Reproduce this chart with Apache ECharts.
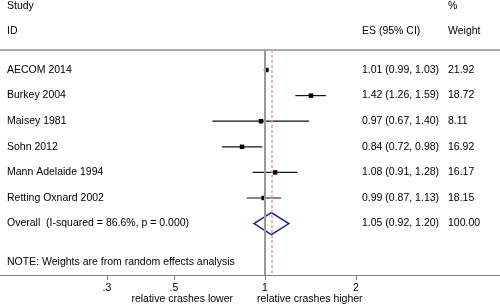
<!DOCTYPE html>
<html>
<head>
<meta charset="utf-8">
<script src="https://cdn.jsdelivr.net/npm/echarts@6/dist/echarts.min.js"></script>
<style>
  html, body { margin: 0; padding: 0; background: #fff; }
  #forest { width: 500px; height: 306px; }
</style>
</head>
<body>
<div id="forest"></div>
<script>
var studies = ['AECOM 2014', 'Burkey 2004', 'Maisey 1981', 'Sohn 2012', 'Mann Adelaide 1994', 'Retting Oxnard 2002'];
var es = [1.01, 1.42, 0.97, 0.84, 1.08, 0.99];
var lower = [0.99, 1.26, 0.67, 0.72, 0.91, 0.87];
var upper = [1.03, 1.59, 1.40, 0.98, 1.28, 1.13];
var weights = ['21.92', '18.72', '8.11', '16.92', '16.17', '18.15'];
var overall = [1.05, 0.92, 1.20];
var overallLabel = 'Overall  (I-squared = 86.6%, p = 0.000)';
var overallWeight = '100.00';
var tickValues = [0.3, 0.5, 1, 2];
var tickLabels = ['.3', '.5', '1', '2'];

var FONT = 'Liberation Sans, Arial, sans-serif';
var FS = 10.5;
var chart = echarts.init(document.getElementById('forest'));

function ciText(e, l, u) {
  return e.toFixed(2) + ' (' + l.toFixed(2) + ', ' + u.toFixed(2) + ')';
}

var studyData = [];
for (var i = 0; i < studies.length; i++) {
  studyData.push([i, es[i], lower[i], upper[i]]);
}
var overallRow = studies.length;

var option = {
  animation: false,
  grid: { left: 0, right: 0, top: 50, bottom: 31 },
  xAxis: [{
    type: 'log',
    logBase: 10,
    min: 0.1328,
    max: 5.994,
    axisLine: { show: true, onZero: false, lineStyle: { color: '#808080', width: 1 } },
    axisTick: { show: true, length: 5, lineStyle: { color: '#808080' }, customValues: tickValues },
    axisLabel: {
      show: true, color: '#000', fontFamily: FONT, fontSize: FS, margin: 8,
      customValues: tickValues,
      formatter: function (v) {
        for (var k = 0; k < tickValues.length; k++) {
          if (Math.abs(tickValues[k] - v) < 1e-6) return tickLabels[k];
        }
        return '';
      }
    },
    splitLine: { show: false }
  }, {
    type: 'log',
    logBase: 10,
    position: 'top',
    min: 0.1328,
    max: 5.994,
    axisLine: { show: true, onZero: false, lineStyle: { color: '#909090', width: 1.5 } },
    axisTick: { show: false },
    axisLabel: { show: false },
    splitLine: { show: false }
  }],
  yAxis: {
    type: 'value',
    inverse: true,
    min: -0.78125,
    max: 8.0078,
    show: false
  },
  series: [{
    type: 'custom',
    data: studyData,
    renderItem: function (params, api) {
      var row = api.value(0);
      var p = api.coord([api.value(1), row]);
      var a = api.coord([api.value(2), row]);
      var b = api.coord([api.value(3), row]);
      var s = 4.5;
      return {
        type: 'group',
        children: [{
          type: 'line',
          shape: { x1: a[0], y1: a[1], x2: b[0], y2: b[1] },
          style: { stroke: '#111', lineWidth: 1.2 }
        }, {
          type: 'rect',
          shape: { x: p[0] - s / 2, y: p[1] - s / 2, width: s, height: s },
          style: { fill: '#000' }
        }]
      };
    },
    markLine: {
      silent: true,
      symbol: 'none',
      label: { show: false },
      data: [
        { xAxis: 1, lineStyle: { color: '#999', width: 2, type: 'solid' } },
        { xAxis: overall[0], lineStyle: { color: '#d9a0a8', width: 1.5, type: [3, 2] } }
      ]
    },
    z: 3
  }, {
    type: 'custom',
    data: [[overallRow].concat(overall)],
    renderItem: function (params, api) {
      var row = api.value(0);
      var h = 0.43;
      var pts = [
        api.coord([api.value(2), row]),
        api.coord([api.value(1), row - h]),
        api.coord([api.value(3), row]),
        api.coord([api.value(1), row + h])
      ];
      return {
        type: 'polygon',
        shape: { points: pts },
        style: { fill: 'none', stroke: '#1f1f80', lineWidth: 1.5 }
      };
    },
    z: 4
  }]
};

chart.setOption(option);

function txt(x, y, text, align) {
  return {
    type: 'text',
    x: x, y: y,
    style: {
      text: text, fill: '#000', font: FS + 'px ' + FONT,
      textAlign: align || 'left', textVerticalAlign: 'middle'
    },
    silent: true
  };
}

var colLeft = 7, colEs = 362, colW = 448;
var els = [
  txt(colLeft, 6, 'Study'),
  txt(colLeft, 31, 'ID'),
  txt(colEs, 31, 'ES (95% CI)'),
  txt(colW, 6, '%'),
  txt(colW, 31, 'Weight')
];
for (var j = 0; j < studies.length; j++) {
  var py = chart.convertToPixel({ gridIndex: 0 }, [1, j])[1];
  els.push(txt(colLeft, py, studies[j]));
  els.push(txt(colEs, py, ciText(es[j], lower[j], upper[j])));
  els.push(txt(colW, py, weights[j]));
}
var oy = chart.convertToPixel({ gridIndex: 0 }, [1, overallRow])[1];
els.push(txt(colLeft, oy, overallLabel));
els.push(txt(colEs, oy, ciText(overall[0], overall[1], overall[2])));
els.push(txt(colW, oy, overallWeight));
els.push(txt(colLeft, 262, 'NOTE: Weights are from random effects analysis'));

var x1 = chart.convertToPixel({ xAxisIndex: 0 }, 1);
els.push(txt(x1 - 32, 299, 'relative crashes lower', 'right'));
els.push(txt(x1 - 8, 299, 'relative crashes higher', 'left'));

chart.setOption({ graphic: els });
</script>
</body>
</html>
